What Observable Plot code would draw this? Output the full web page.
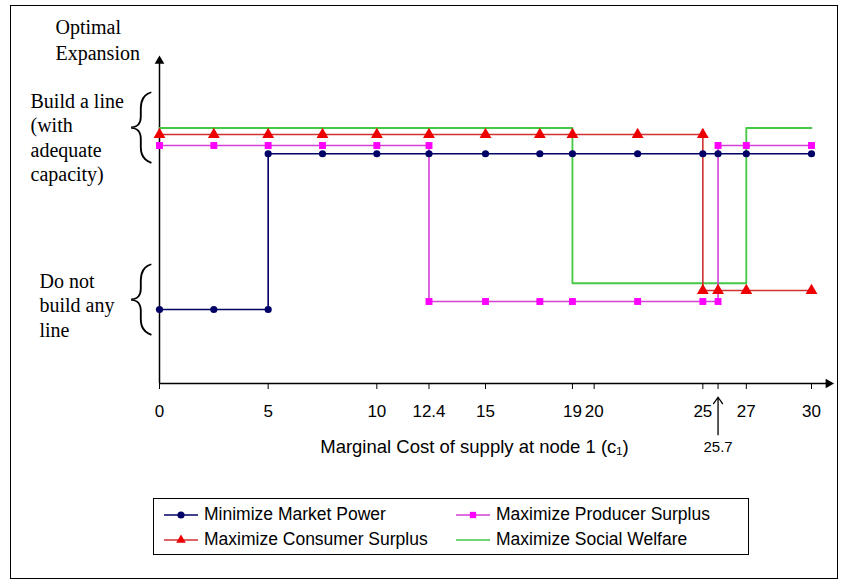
<!DOCTYPE html>
<html>
<head>
<meta charset="utf-8">
<script src="https://cdn.jsdelivr.net/npm/d3@7"></script>
<script src="https://cdn.jsdelivr.net/npm/@observablehq/plot@0.6"></script>
<style>
  html, body { margin: 0; padding: 0; background: #fff; }
  body { width: 841px; height: 585px; position: relative; overflow: hidden; font-family: "Liberation Sans", Arial, sans-serif; }
  #frame { position: absolute; left: 10px; top: 5px; width: 828px; height: 574px; border: 1px solid #000; box-sizing: border-box; }
  #chart { position: absolute; left: 0; top: 0; }
  #legend { position: absolute; left: 153px; top: 498px; width: 596px; height: 57px; border: 1.5px solid #000; box-sizing: border-box; background: #fff;
            display: grid; grid-template-columns: 292px auto; grid-auto-rows: 25px; padding: 3px 0 0 9px; }
  .item { display: flex; align-items: center; font-size: 17.5px; color: #000; white-space: nowrap; }
  .item svg { margin-right: 5px; }
</style>
</head>
<body>
<div id="frame"></div>
<div id="chart"></div>
<div id="legend"></div>
<script>
// ---- data ----
const xTicks = [0, 5, 10, 12.4, 15, 19, 20, 25, 25.7, 27, 30];
const xTickLabels = ["0", "5", "10", "12.4", "15", "19", "20", "25", "", "27", "30"];

// decision: 0 = do not build any line, 1 = build a line
const navyX = [0, 2.5, 5, 5, 7.5, 10, 12.4, 15, 17.5, 19, 22, 25, 25.7, 27, 30];
const navyBuild = [0, 0, 0, 1, 1, 1, 1, 1, 1, 1, 1, 1, 1, 1, 1];
const magentaX = [0, 2.5, 5, 7.5, 10, 12.4, 12.4, 15, 17.5, 19, 22, 25, 25.7, 25.7, 27, 30];
const magentaBuild = [1, 1, 1, 1, 1, 1, 0, 0, 0, 0, 0, 0, 0, 1, 1, 1];
const redX = [0, 2.5, 5, 7.5, 10, 12.4, 15, 17.5, 19, 22, 25, 25, 25.7, 27, 30];
const redBuild = [1, 1, 1, 1, 1, 1, 1, 1, 1, 1, 1, 0, 0, 0, 0];
const greenX = [0, 19, 19, 27, 27, 30];
const greenBuild = [1, 1, 0, 0, 1, 1];

// drawn height of each series for [do not build, build] (series are offset so they stay visible)
const navyLevel = [0.296, 0.919];
const magentaLevel = [0.328, 0.952];
const redLevel = [0.372, 0.996];
const greenLevel = [0.401, 1.022];

const seriesNames = ["Minimize Market Power", "Maximize Producer Surplus", "Maximize Consumer Surplus", "Maximize Social Welfare"];
const lineColors = ["#000066", "#d63fd6", "#d23232", "#45c845"];
const markerColors = ["#000066", "#ff00ff", "#ee0000", null];
const markerSymbols = ["circle", "square", "triangle", null];

const axisTop = 1.29;      // y-axis arrow
const axisRight = 30.78;   // x-axis arrow

function rows(xs, build, level) {
  return xs.map((x, i) => ({x, y: level[build[i]]}));
}
const navy = rows(navyX, navyBuild, navyLevel);
const magenta = rows(magentaX, magentaBuild, magentaLevel);
const red = rows(redX, redBuild, redLevel);
const green = rows(greenX, greenBuild, greenLevel);

const serif = "'Liberation Serif', 'Times New Roman', serif";
const sans = "'Liberation Sans', Arial, sans-serif";
const braceFont = "Roboto, 'Liberation Serif', serif";

const plot = Plot.plot({
  width: 841,
  height: 585,
  marginLeft: 159,
  marginRight: 30,
  marginTop: 55,
  marginBottom: 202,
  x: {domain: [0, 30], axis: null},
  y: {domain: [0, 1.312], axis: null},
  style: {fontFamily: sans, fontSize: "17px", background: "transparent", overflow: "visible"},
  marks: [
    // axes with arrow heads
    Plot.ruleY([0], {x1: 0, x2: axisRight, stroke: "#000", strokeWidth: 1.5}),
    Plot.ruleX([0], {y1: 0, y2: axisTop, stroke: "#000", strokeWidth: 1.5}),
    Plot.dot([0], {x: axisRight, y: 0, symbol: "triangle", r: 3.6, fill: "#000", rotate: 90}),
    Plot.dot([0], {x: 0, y: axisTop, symbol: "triangle", r: 3.6, fill: "#000"}),
    Plot.axisX({ticks: xTicks, tickFormat: d => xTickLabels[xTicks.indexOf(d)], tickSize: 6, tickPadding: 15, fontSize: 17, label: null}),
    // series
    Plot.line(green, {x: "x", y: "y", stroke: lineColors[3], strokeWidth: 1.8}),
    Plot.line(navy, {x: "x", y: "y", stroke: lineColors[0], strokeWidth: 1.6}),
    Plot.line(magenta, {x: "x", y: "y", stroke: lineColors[1], strokeWidth: 1.6}),
    Plot.line(red, {x: "x", y: "y", stroke: lineColors[2], strokeWidth: 1.6}),
    Plot.dot(navy, {x: "x", y: "y", symbol: markerSymbols[0], r: 3.6, fill: markerColors[0]}),
    Plot.dot(magenta, {x: "x", y: "y", symbol: markerSymbols[1], r: 3.9, fill: markerColors[1]}),
    Plot.dot(red, {x: "x", y: "y", symbol: markerSymbols[2], r: 4.4, fill: markerColors[2]}),
    // 25.7 annotation
    Plot.arrow([25.7], {x1: d => d, x2: d => d, y1: -0.205, y2: -0.055, stroke: "#000", strokeWidth: 1.3, headLength: 9, headAngle: 70}),
    Plot.text([25.7], {x: d => d, y: -0.256, text: d => String(d), fontSize: 15, fontFamily: sans}),
    // x-axis title
    Plot.text(["Marginal Cost of supply at node 1 (c\u2081)"], {frameAnchor: "bottom", dx: -11, dy: 64, lineAnchor: "middle", fontSize: 18.5, fontFamily: sans}),
    // y-axis labels (serif)
    Plot.text(["Optimal\nExpansion"], {frameAnchor: "top-left", dx: -104, dy: -40, textAnchor: "start", lineAnchor: "top", lineHeight: 1.3, fontSize: 20, fontFamily: serif}),
    Plot.text(["Build a line\n(with\nadequate\ncapacity)"], {frameAnchor: "top-left", dx: -129, dy: 35, textAnchor: "start", lineAnchor: "top", lineHeight: 1.22, fontSize: 20, fontFamily: serif}),
    Plot.text(["Do not\nbuild any\nline"], {frameAnchor: "top-left", dx: -120, dy: 215, textAnchor: "start", lineAnchor: "top", lineHeight: 1.22, fontSize: 20, fontFamily: serif}),
    Plot.text(["{"], {frameAnchor: "top-left", dx: -31, dy: 69, lineAnchor: "middle", fontSize: 72, fontWeight: 100, fontFamily: braceFont}),
    Plot.text(["{"], {frameAnchor: "top-left", dx: -31, dy: 241, lineAnchor: "middle", fontSize: 72, fontWeight: 100, fontFamily: braceFont})
  ]
});
document.getElementById("chart").appendChild(plot);

// legend (two columns, two rows)
const legend = document.getElementById("legend");
for (let i = 0; i < seriesNames.length; i++) {
  const item = document.createElement("div");
  item.className = "item";
  const svg = d3.create("svg").attr("width", 36).attr("height", 14);
  svg.append("line").attr("x1", 1).attr("x2", 35).attr("y1", 7).attr("y2", 7)
    .attr("stroke", lineColors[i]).attr("stroke-width", 1.6);
  if (markerSymbols[i]) {
    const symType = {circle: d3.symbolCircle, square: d3.symbolSquare, triangle: d3.symbolTriangle}[markerSymbols[i]];
    svg.append("path").attr("d", d3.symbol(symType, 40)()).attr("transform", "translate(18,7)").attr("fill", markerColors[i]);
  }
  item.appendChild(svg.node());
  const span = document.createElement("span");
  span.textContent = seriesNames[i];
  item.appendChild(span);
  legend.appendChild(item);
}
</script>
</body>
</html>
